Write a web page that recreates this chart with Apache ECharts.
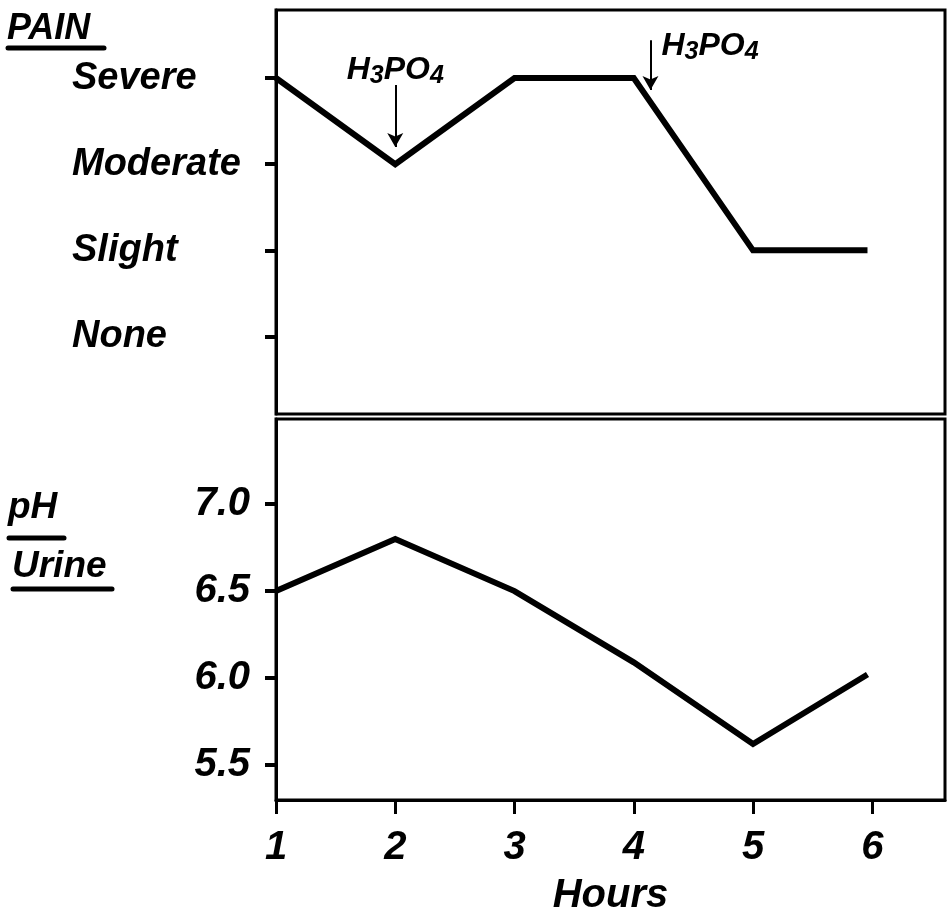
<!DOCTYPE html>
<html>
<head>
<meta charset="utf-8">
<script src="https://cdn.jsdelivr.net/npm/echarts@6/dist/echarts.min.js"></script>
<style>
  html, body { margin: 0; padding: 0; background: #fff; }
  #main { width: 949px; height: 913px; }
</style>
</head>
<body>
<div id="main"></div>
<script>
// data
var hours = [1, 2, 3, 4, 5, 5.96];
var painLevels = ['None', 'Slight', 'Moderate', 'Severe'];
var painValues = [3, 2, 3, 3, 1, 1];
var phValues = [6.5, 6.8, 6.5, 6.09, 5.62, 6.02];
var phTicks = [5.5, 6.0, 6.5, 7.0];
var hourTicks = [1, 2, 3, 4, 5, 6];
// H3PO4 doses: arrow x, arrow top/bottom (pain scale), label position
var doseX = [2, 4.14];
var doseArrow = [[2.92, 2.2], [3.44, 2.86]];
var doseLabel = [[2.0, 3.09], [4.64, 3.37]];

var FONT = 'Liberation Sans';
var chartDom = document.getElementById('main');
var myChart = echarts.init(chartDom);

var txt = function (size) {
  return { fontFamily: FONT, fontStyle: 'italic', fontWeight: 'bold', fontSize: size, color: '#000' };
};

var arrows = doseX.map(function (x, i) {
  return [{ coord: [x, doseArrow[i][0]] }, { coord: [x, doseArrow[i][1]] }];
});
var labels = doseX.map(function (x, i) {
  return { coord: doseLabel[i] };
});

var option = {
  animation: false,
  backgroundColor: '#fff',
  grid: [
    { left: 276, right: 4, top: 10, height: 404, show: true, borderColor: '#000', borderWidth: 3, outerBoundsMode: 'none' },
    { left: 276, right: 4, top: 419, height: 381, show: true, borderColor: '#000', borderWidth: 3, outerBoundsMode: 'none' }
  ],
  xAxis: [
    {
      gridIndex: 0, type: 'value', min: 1, max: 6.61,
      axisLine: { show: false }, axisTick: { show: false },
      axisLabel: { show: false }, splitLine: { show: false }
    },
    {
      gridIndex: 1, type: 'value', min: 1, max: 6.61,
      name: 'Hours', nameLocation: 'middle', nameGap: 76,
      nameTextStyle: txt(40),
      axisLine: { show: true, lineStyle: { color: '#000', width: 3 } },
      axisTick: { show: true, customValues: hourTicks, length: 14, lineStyle: { color: '#000', width: 3 } },
      axisLabel: Object.assign(txt(40), { customValues: hourTicks, margin: 28 }),
      splitLine: { show: false }
    }
  ],
  yAxis: [
    {
      gridIndex: 0, type: 'value', min: -0.9, max: 3.79,
      axisLine: { show: true, lineStyle: { color: '#000', width: 3 } },
      axisTick: { show: true, customValues: [0, 1, 2, 3], length: 11, lineStyle: { color: '#000', width: 4 } },
      axisLabel: Object.assign(txt(38), {
        customValues: [0, 1, 2, 3], align: 'left', margin: 204,
        formatter: function (v) { return painLevels[Math.round(v)]; }
      }),
      splitLine: { show: false }
    },
    {
      gridIndex: 1, type: 'value', min: 5.298, max: 7.49,
      axisLine: { show: true, lineStyle: { color: '#000', width: 3 } },
      axisTick: { show: true, customValues: phTicks, length: 11, lineStyle: { color: '#000', width: 4 } },
      axisLabel: Object.assign(txt(40), {
        customValues: phTicks, margin: 26,
        formatter: function (v) { return v.toFixed(1); }
      }),
      splitLine: { show: false }
    }
  ],
  series: [
    {
      name: 'Pain', type: 'line', xAxisIndex: 0, yAxisIndex: 0,
      data: hours.map(function (h, i) { return [h, painValues[i]]; }),
      symbol: 'none', lineStyle: { color: '#000', width: 6, join: 'miter' },
      markLine: {
        silent: true, symbol: ['none', 'arrow'], symbolSize: [12, 14],
        lineStyle: { color: '#000', width: 2, type: 'solid' },
        label: { show: false },
        data: arrows
      },
      markPoint: {
        silent: true, symbol: 'circle', symbolSize: 0,
        label: {
          show: true, position: 'inside',
          formatter: '{n|H}{s|3}{n|PO}{s|4}',
          rich: {
            n: txt(32),
            s: Object.assign(txt(25), { padding: [12, 0, 0, 0] })
          }
        },
        data: labels
      }
    },
    {
      name: 'pH', type: 'line', xAxisIndex: 1, yAxisIndex: 1,
      data: hours.map(function (h, i) { return [h, phValues[i]]; }),
      symbol: 'none', lineStyle: { color: '#000', width: 6, join: 'miter' }
    }
  ],
  graphic: [
    { type: 'text', left: 7, top: 11, style: Object.assign(txt(36), { text: 'PAIN', fill: '#000' }) },
    { type: 'line', shape: { x1: 8, y1: 48, x2: 104, y2: 48 }, style: { stroke: '#000', lineWidth: 5, lineCap: 'round' } },
    { type: 'text', left: 8, top: 489, style: Object.assign(txt(37), { text: 'pH', fill: '#000' }) },
    { type: 'line', shape: { x1: 9, y1: 538, x2: 64, y2: 538 }, style: { stroke: '#000', lineWidth: 5, lineCap: 'round' } },
    { type: 'text', left: 12, top: 548, style: Object.assign(txt(37), { text: 'Urine', fill: '#000' }) },
    { type: 'line', shape: { x1: 13, y1: 589, x2: 112, y2: 589 }, style: { stroke: '#000', lineWidth: 5, lineCap: 'round' } }
  ]
};

myChart.setOption(option);
window.onresize = function () {
  myChart.resize();
};
</script>
</body>
</html>
